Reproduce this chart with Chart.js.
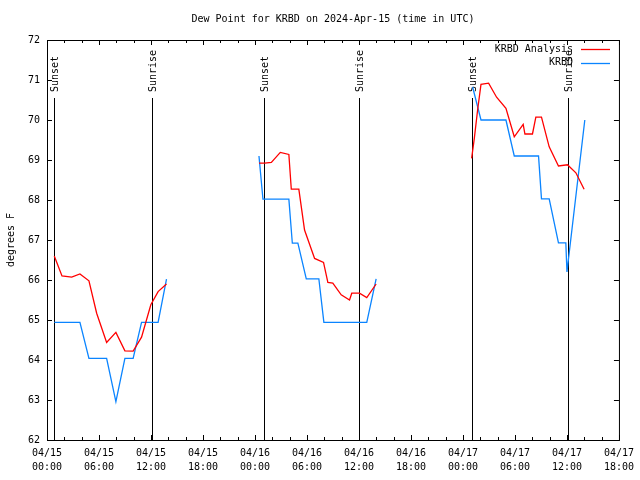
<!DOCTYPE html>
<html>
<head>
<meta charset="utf-8">
<script src="https://cdn.jsdelivr.net/npm/chart.js@4/dist/chart.umd.min.js"></script>
<style>
  body { margin: 0; background: #fff; }
  canvas { display: block; }
</style>
</head>
<body>
<canvas id="dew" width="640" height="480"></canvas>
<script>
// hours since 04/15 00:00 UTC, null = gap between days
const anaHours = [0.84, 1.73, 2.85, 3.80, 4.84, 5.73, 6.88, 7.95, 8.99, 9.94, 10.91, 11.98, 12.82, 13.79,
  18,
  24.46, 25.12, 25.89, 26.92, 27.91, 28.19, 29.06, 29.72, 30.88, 31.91, 32.41, 32.98, 33.95, 34.91, 35.17, 36.06, 36.9, 37.98,
  43,
  49.0, 49.31, 49.69, 50.08, 50.96, 51.88, 52.96, 53.92, 54.95, 55.15, 56.02, 56.41, 57.06, 57.95, 59.02, 60.06, 61.03, 61.98];
const anaValues = [66.6, 66.1, 66.07, 66.15, 65.98, 65.17, 64.44, 64.69, 64.23, 64.22, 64.57, 65.38, 65.71, 65.9,
  null,
  68.92, 68.92, 68.94, 69.19, 69.14, 68.27, 68.27, 67.25, 66.54, 66.44, 65.94, 65.92, 65.63, 65.5, 65.67, 65.67, 65.56, 65.9,
  null,
  69.04, 69.54, 70.25, 70.89, 70.92, 70.57, 70.29, 69.58, 69.89, 69.65, 69.65, 70.07, 70.07, 69.33, 68.85, 68.88, 68.68, 68.27];

const obsHours = [0.84, 1.73, 2.85, 3.80, 4.84, 5.73, 6.88, 7.95, 8.99, 9.94, 10.91, 11.98, 12.82, 13.79,
  18,
  24.46, 24.92, 27.91, 28.31, 28.95, 29.92, 31.37, 31.95, 36.9, 37.98,
  43,
  49.11, 50.08, 52.96, 53.92, 56.72, 57.06, 57.95, 59.02, 59.87, 60.0, 62.06];
const obsValues = [64.94, 64.94, 64.94, 64.94, 64.04, 64.04, 64.04, 62.96, 64.04, 64.04, 64.94, 64.94, 64.94, 66.02,
  null,
  69.1, 68.02, 68.02, 66.92, 66.92, 66.03, 66.03, 64.94, 64.94, 66.03,
  null,
  70.83, 70.0, 70.0, 69.1, 69.1, 68.03, 68.03, 66.93, 66.93, 66.2, 70.0];

const sunsetHours = [0.8, 25.0, 49.0];
const sunriseHours = [12.1, 36.0, 60.15];

const tickDays = ['04/15', '04/15', '04/15', '04/15', '04/16', '04/16', '04/16', '04/16', '04/17', '04/17', '04/17', '04/17'];
const tickTimes = ['00:00', '06:00', '12:00', '18:00', '00:00', '06:00', '12:00', '18:00', '00:00', '06:00', '12:00', '18:00'];

const FONT = '"DejaVu Sans Mono", "Liberation Mono", monospace';

function pts(hours, values) {
  return hours.map((h, i) => ({ x: h, y: values[i] }));
}

const gnuDecor = {
  id: 'gnuDecor',
  beforeDatasetsDraw(chart) {
    const { ctx, chartArea: a, scales: { x } } = chart;
    ctx.save();
    ctx.strokeStyle = '#000';
    ctx.fillStyle = '#000';
    ctx.lineWidth = 1;
    ctx.font = '10px ' + FONT;
    const marks = sunsetHours.map(h => [h, 'Sunset']).concat(sunriseHours.map(h => [h, 'Sunrise']));
    marks.forEach(([h, txt]) => {
      const px = Math.round(x.getPixelForValue(h)) + 0.5;
      ctx.beginPath();
      ctx.moveTo(px, a.top + 58);
      ctx.lineTo(px, a.bottom);
      ctx.stroke();
      ctx.save();
      ctx.translate(px + 1, a.top + 52);
      ctx.rotate(-Math.PI / 2);
      ctx.textAlign = 'left';
      ctx.textBaseline = 'middle';
      ctx.fillText(txt, 0, 0);
      ctx.restore();
    });
    ctx.restore();
  },
  afterDatasetsDraw(chart) {
    const { ctx, chartArea: a, scales: { x, y } } = chart;
    ctx.save();
    ctx.strokeStyle = '#000';
    ctx.fillStyle = '#000';
    ctx.lineWidth = 1;
    ctx.strokeRect(a.left + 0.5, a.top + 0.5, a.right - a.left, a.bottom - a.top);
    ctx.beginPath();
    for (let h = 0; h <= 66; h += 2) {
      const px = Math.round(x.getPixelForValue(h)) + 0.5;
      const len = h % 6 === 0 ? 5 : 3;
      ctx.moveTo(px, a.bottom); ctx.lineTo(px, a.bottom - len);
      ctx.moveTo(px, a.top); ctx.lineTo(px, a.top + len);
    }
    for (let v = 62; v <= 72; v++) {
      const py = Math.round(y.getPixelForValue(v)) + 0.5;
      ctx.moveTo(a.left, py); ctx.lineTo(a.left + 5, py);
      ctx.moveTo(a.right, py); ctx.lineTo(a.right - 5, py);
    }
    ctx.stroke();

    ctx.font = '10px ' + FONT;
    ctx.textBaseline = 'middle';
    // title
    ctx.textAlign = 'center';
    ctx.fillText('Dew Point for KRBD on 2024-Apr-15 (time in UTC)', (a.left + a.right) / 2, 19);
    // y title
    ctx.save();
    ctx.translate(11, 240);
    ctx.rotate(-Math.PI / 2);
    ctx.fillText('degrees F', 0, 0);
    ctx.restore();
    // legend
    ctx.textAlign = 'right';
    chart.data.datasets.forEach((ds, i) => {
      const ly = 49 + i * 13.5;
      ctx.fillStyle = '#000';
      ctx.fillText(ds.label, 573, ly);
      ctx.strokeStyle = ds.borderColor;
      ctx.lineWidth = 1.3;
      ctx.beginPath();
      ctx.moveTo(581, Math.round(ly) + 0.5);
      ctx.lineTo(610, Math.round(ly) + 0.5);
      ctx.stroke();
    });
    ctx.restore();
  }
};

new Chart(document.getElementById('dew'), {
  type: 'line',
  data: {
    datasets: [
      {
        label: 'KRBD Analysis',
        data: pts(anaHours, anaValues),
        borderColor: '#ff0000',
        borderWidth: 1.3,
        pointRadius: 0,
        spanGaps: false
      },
      {
        label: 'KRBD',
        data: pts(obsHours, obsValues),
        borderColor: '#0a84ff',
        borderWidth: 1.3,
        pointRadius: 0,
        spanGaps: false
      }
    ]
  },
  options: {
    responsive: false,
    devicePixelRatio: 1,
    animation: false,
    layout: { padding: { left: 0, right: 20, top: 40, bottom: 0 } },
    plugins: { legend: { display: false }, title: { display: false }, tooltip: { enabled: false } },
    scales: {
      x: {
        type: 'linear',
        min: 0,
        max: 66,
        grid: { display: false, drawTicks: false },
        border: { display: false },
        afterFit(s) { s.height = 40; },
        ticks: {
          stepSize: 6,
          autoSkip: false,
          maxRotation: 0,
          padding: 6,
          color: '#000',
          font: { family: FONT, size: 10, lineHeight: 1.4 },
          callback: v => [tickDays[v / 6], tickTimes[v / 6]]
        }
      },
      y: {
        min: 62,
        max: 72,
        grid: { display: false, drawTicks: false },
        border: { display: false },
        afterFit(s) { s.width = 47; },
        ticks: {
          stepSize: 1,
          padding: 7,
          color: '#000',
          font: { family: FONT, size: 10 }
        }
      }
    }
  },
  plugins: [gnuDecor]
});
</script>
</body>
</html>
